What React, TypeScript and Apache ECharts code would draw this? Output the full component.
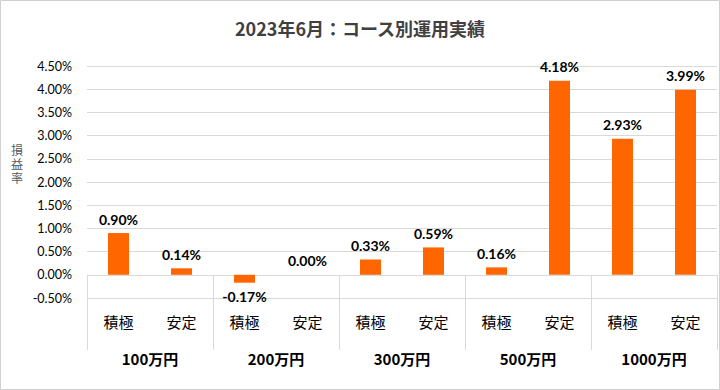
import React, { useEffect, useRef } from "react";
import * as echarts from "echarts";

const title = "2023年6月：コース別運用実績";
const yAxisName = "損益率";
const courses = ["積極", "安定", "積極", "安定", "積極", "安定", "積極", "安定", "積極", "安定"];
const groups = ["100万円", "200万円", "300万円", "500万円", "1000万円"];
const values = [0.9, 0.14, -0.17, 0.0, 0.33, 0.59, 0.16, 4.18, 2.93, 3.99];
const yMin = -0.5;
const yMax = 4.5;
const yStep = 0.5;

const FONT = "Lato, 'Noto Sans CJK JP', sans-serif";
const CJK = "'Noto Sans CJK JP', Lato, sans-serif";

export default function App() {
  const ref = useRef<HTMLDivElement>(null);
  useEffect(() => {
    document.body.style.margin = "0";
    const chart = echarts.init(ref.current!, null, { renderer: "svg" });
    const nameChars = yAxisName.split("");
    chart.setOption({
      animation: false,
      backgroundColor: "#ffffff",
      title: {
        text: title,
        left: "center",
        top: 14,
        textStyle: { fontFamily: CJK, fontSize: 18, fontWeight: "bold", color: "#404040" },
      },
      graphic: [
        {
          type: "rect",
          shape: { x: 0.5, y: 0.5, width: 719, height: 389 },
          style: { fill: "none", stroke: "#d0d0d0", lineWidth: 1 },
          silent: true,
        },
        ...nameChars.map((ch, i) => ({
          type: "text",
          x: 17,
          y: 165 + (i - (nameChars.length - 1) / 2) * 13.8,
          silent: true,
          style: {
            text: ch,
            fontFamily: "'Liberation Sans', 'Noto Sans CJK JP', sans-serif",
            fontSize: 12,
            fill: "#595959",
            align: "center",
            verticalAlign: "middle",
          },
        })),
      ],
      grid: { left: 87, right: 3, top: 66, bottom: 92 },
      xAxis: [
        {
          type: "category",
          data: courses,
          position: "bottom",
          axisLine: { show: true, onZero: false, lineStyle: { color: "#d9d9d9" } },
          axisTick: { show: false },
          axisLabel: { interval: 0, margin: 16, fontFamily: CJK, fontSize: 15, color: "#000000" },
        },
        {
          type: "category",
          data: groups,
          position: "bottom",
          axisLine: { show: false },
          axisTick: { show: true, interval: 0, length: 75, lineStyle: { color: "#d9d9d9" } },
          axisLabel: { interval: 0, margin: 53, fontFamily: CJK, fontSize: 15, fontWeight: "bold", color: "#000000" },
        },
      ],
      yAxis: {
        type: "value",
        min: yMin,
        max: yMax,
        interval: yStep,
        axisLine: { show: false },
        axisTick: { show: false },
        splitLine: { lineStyle: { color: "#d9d9d9" } },
        axisLabel: {
          margin: 15,
          fontFamily: FONT,
          fontSize: 12.5,
          color: "#000000",
          formatter: (v: number) => v.toFixed(2) + "%",
        },
      },
      series: [
        {
          type: "bar",
          xAxisIndex: 0,
          barWidth: 21,
          itemStyle: { color: "#FF6600" },
          data: values.map((v) => ({
            value: v,
            label: { position: v < 0 ? "bottom" : "top" },
          })),
          label: {
            show: true,
            distance: 7,
            fontFamily: FONT,
            fontSize: 14,
            fontWeight: "bold",
            color: "#000000",
            formatter: (p: any) => (p.value as number).toFixed(2) + "%",
          },
        },
      ],
    });
    return () => chart.dispose();
  }, []);
  return <div ref={ref} style={{ width: 720, height: 390 }} />;
}
